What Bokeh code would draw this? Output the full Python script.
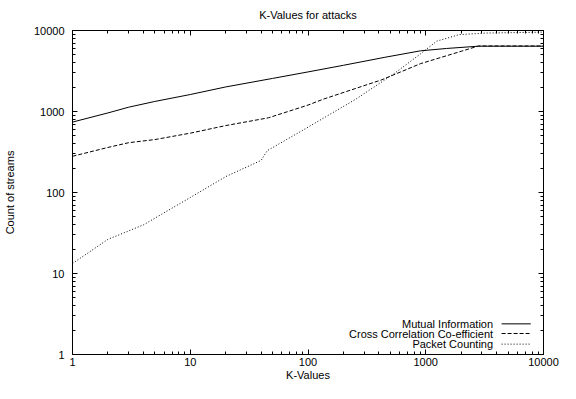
import numpy as np
from bokeh.plotting import figure
from bokeh.models import LogAxis, FixedTicker, Label, PrintfTickFormatter
from bokeh.embed import file_html
from bokeh.resources import INLINE

# ---------------- data ----------------
title_text = "K-Values for attacks"
x_label = "K-Values"
y_label = "Count of streams"
series_names = ["Mutual Information", "Cross Correlation Co-efficient", "Packet Counting"]
x_ticks = [1, 10, 100, 1000, 10000]
y_ticks = [1, 10, 100, 1000, 10000]

mi_k = [1, 2, 3, 5, 10, 20, 50, 100, 200, 450, 900, 1500, 2800, 10000]
mi_count = [740, 960, 1130, 1330, 1620, 2010, 2560, 3080, 3720, 4670, 5610, 6000, 6400, 6400]

cc_k = [1, 2, 3, 5, 10, 20, 46, 100, 135, 422, 900, 2000, 2810, 10000]
cc_count = [280, 360, 412, 450, 540, 670, 835, 1200, 1420, 2460, 3890, 5540, 6440, 6440]

pc_k = [1, 2, 4, 10, 20, 40, 45, 87, 255, 543, 900, 1240, 1920, 3190, 10000]
pc_count = [13.3, 26.4, 39.8, 86.7, 157, 249, 328, 569, 1420, 2960, 5130, 7390, 8890, 9290, 9540]

FONT = "Liberation Sans"
FS = "11px"

x_minor = [m * t for t in x_ticks[:-1] for m in range(2, 10)]
y_minor = [m * t for t in y_ticks[:-1] for m in range(2, 10)]

p = figure(width=560, height=383, x_axis_type="log", y_axis_type="log",
           x_range=(x_ticks[0], x_ticks[-1]), y_range=(y_ticks[0], y_ticks[-1]),
           output_backend="svg", toolbar_location=None,
           min_border_left=71, min_border_right=17, min_border_top=29, min_border_bottom=29,
           background_fill_color="white", border_fill_color="white")

p.title.text = title_text
p.title.align = "center"
p.title.offset = 5
p.title.standoff = 16
p.title.vertical_align = "top"
p.title.text_font = FONT
p.title.text_font_size = FS
p.title.text_font_style = "normal"
p.title.text_color = "black"

p.xgrid.visible = False
p.ygrid.visible = False
p.outline_line_color = "black"
p.outline_line_width = 1


def style_axis(ax, ticker, labels=True):
    ax.ticker = ticker
    ax.major_tick_in = 5
    ax.major_tick_out = 0
    ax.minor_tick_in = 3
    ax.minor_tick_out = 0
    ax.axis_line_color = "black"
    ax.major_tick_line_color = "black"
    ax.minor_tick_line_color = "black"
    ax.formatter = PrintfTickFormatter(format="%d")
    if labels:
        ax.major_label_text_font = FONT
        ax.major_label_text_font_size = FS
        ax.major_label_text_color = "black"
        ax.axis_label_text_font = FONT
        ax.axis_label_text_font_size = FS
        ax.axis_label_text_font_style = "normal"
        ax.axis_label_text_color = "black"
    else:
        ax.major_label_text_font_size = "1px"
        ax.major_label_text_alpha = 0
        ax.major_label_standoff = 0


xt = FixedTicker(ticks=x_ticks, minor_ticks=x_minor)
yt = FixedTicker(ticks=y_ticks, minor_ticks=y_minor)

xa = p.xaxis[0]
style_axis(xa, xt)
xa.axis_label = x_label
xa.major_label_standoff = 3
xa.axis_label_standoff = 0

ya = p.yaxis[0]
style_axis(ya, yt)
ya.axis_label = y_label
ya.major_label_standoff = 8
ya.axis_label_standoff = 15

top = LogAxis()
style_axis(top, xt, labels=False)
p.add_layout(top, "above")
right = LogAxis()
style_axis(right, yt, labels=False)
p.add_layout(right, "right")

styles = [dict(line_dash="solid"), dict(line_dash="4 2"), dict(line_dash="1 2")]
data = [(mi_k, mi_count), (cc_k, cc_count), (pc_k, pc_count)]
for (k, c), st in zip(data, styles):
    p.line(k, c, line_color="black", line_width=1, **st)

# legend (text right-aligned, sample to its right), placed by frame fractions
def fx(f):
    lo, hi = np.log10(x_ticks[0]), np.log10(x_ticks[-1])
    return 10 ** (lo + f * (hi - lo))

def fy(f):
    lo, hi = np.log10(y_ticks[0]), np.log10(y_ticks[-1])
    return 10 ** (lo + f * (hi - lo))

row_fracs = [0.0946, 0.0648, 0.032]
for name, st, rf in zip(series_names, styles, row_fracs):
    p.add_layout(Label(x=fx(0.893), y=fy(rf), text=name, text_align="right",
                       text_baseline="middle", text_font=FONT, text_font_size=FS,
                       text_color="black"))
    p.line([fx(0.911), fx(0.973)], [fy(rf), fy(rf)], line_color="black", line_width=1, **st)

open("out.html", "w").write(file_html(p, INLINE))
